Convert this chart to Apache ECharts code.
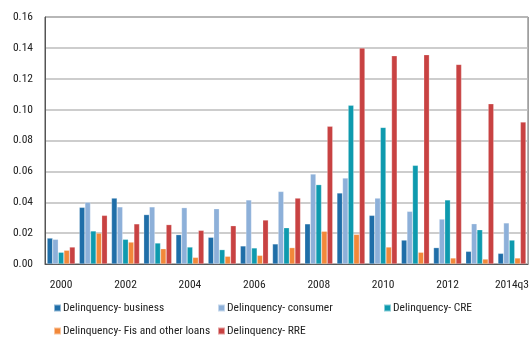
<!DOCTYPE html>
<html><head><meta charset="utf-8">
<script src="https://cdn.jsdelivr.net/npm/echarts@6/dist/echarts.min.js"></script>
<style>html,body{margin:0;padding:0;background:#fff}#c{width:532px;height:337px}</style>
</head><body><div id="c"></div>
<script>
const categories = ['2000','2001','2002','2003','2004','2005','2006','2007','2008','2009','2010','2011','2012','2013','2014q3'];
const business = [0.0168,0.0367,0.0427,0.0320,0.0190,0.0173,0.0117,0.0130,0.0260,0.0460,0.0315,0.0155,0.0106,0.0082,0.0069];
const consumer = [0.0160,0.0400,0.0370,0.0370,0.0365,0.0358,0.0415,0.0470,0.0583,0.0557,0.0427,0.0341,0.0291,0.0261,0.0266];
const cre      = [0.0076,0.0214,0.0160,0.0136,0.0110,0.0093,0.0104,0.0235,0.0514,0.1028,0.0885,0.0639,0.0415,0.0222,0.0155];
const fis      = [0.0089,0.0200,0.0142,0.0099,0.0043,0.0050,0.0056,0.0106,0.0212,0.0192,0.0110,0.0076,0.0039,0.0032,0.0039];
const rre      = [0.0110,0.0315,0.0260,0.0255,0.0218,0.0248,0.0285,0.0427,0.0892,0.1399,0.1349,0.1356,0.1293,0.1038,0.0920];
const seriesNames = ['Delinquency- business','Delinquency- consumer','Delinquency- CRE','Delinquency- Fis and other loans','Delinquency- RRE'];
const colors = ['#1f6ea8','#8db0d9','#0e9aae','#f2883a','#c84242'];
const font = '"Roboto Condensed", "Liberation Sans", sans-serif';
const chart = echarts.init(document.getElementById('c'), null, {renderer:'canvas'});
const dataArr = [business, consumer, cre, fis, rre];
const legendBase = {orient:'horizontal', itemWidth:7, itemHeight:7, icon:'rect',
  textStyle:{fontFamily:font, fontSize:11.5, color:'#222', padding:[0,0,0,-3]}, padding:0};
const legendPos = [[53,302],[217,302],[383,302],[53,325],[217,325]];
chart.setOption({
  animation:false,
  color: colors,
  grid:{left:45, right:3, top:17, bottom:73, show:true, borderColor:'#555', borderWidth:1, backgroundColor:'transparent'},
  legend: seriesNames.map((n,i)=>Object.assign({}, legendBase, {left:legendPos[i][0], top:legendPos[i][1], data:[n]})),
  xAxis:{type:'category', data:categories,
    axisLine:{lineStyle:{color:'#555'}}, axisTick:{show:false},
    axisLabel:{interval:1, fontFamily:font, fontSize:11.5, color:'#222', margin:15}},
  yAxis:{type:'value', min:0, max:0.16, interval:0.02,
    axisLine:{show:true, lineStyle:{color:'#555'}}, axisTick:{show:false},
    splitLine:{lineStyle:{color:'#bdbdbd', width:1.5}},
    axisLabel:{fontFamily:font, fontSize:11.5, color:'#222', margin:12, formatter:v=>v.toFixed(2)}},
  series: seriesNames.map((n,i)=>({name:n, type:'bar', data:dataArr[i], barGap:'0%', barCategoryGap:'13%',
    itemStyle:{color:colors[i], borderColor:'rgba(255,255,255,0.5)', borderWidth:0.5}}))
});
</script></body></html>
